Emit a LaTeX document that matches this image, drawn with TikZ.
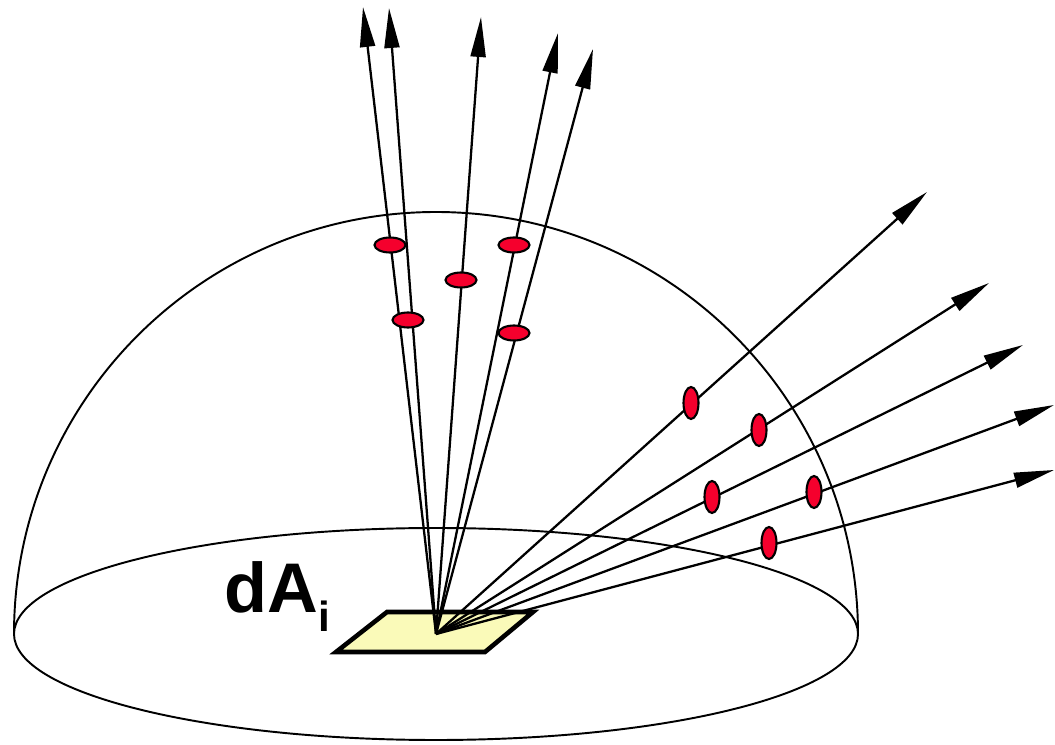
\documentclass[tikz,border=0pt]{standalone}
\usepackage{fontspec}
\setmainfont{Liberation Sans}
\usetikzlibrary{arrows.meta,shapes.geometric}

\definecolor{spotred}{RGB}{245,0,45}
\definecolor{patchyellow}{RGB}{250,250,185}

\begin{document}
\begin{tikzpicture}[x=0.02cm, y=0.02cm,
  ray/.style={line width=1.3pt, -{Triangle[length=0.8cm, width=0.3cm]}},
  spot/.style={ellipse, draw, line width=1.2pt, fill=spotred, inner sep=0pt},
  hspot/.style={spot, minimum width=0.62cm, minimum height=0.3cm},
  vspot/.style={spot, minimum width=0.3cm, minimum height=0.64cm}]

\useasboundingbox (0,0) rectangle (1055,744);

% ================= HEMISPHERE =================
\draw[line width=1.1pt] (436,110) ellipse[x radius=422, y radius=106];
\draw[line width=1.1pt] (14,110) arc[start angle=180, end angle=0, radius=422];

% Surface patch
\draw[line width=2.6pt, line join=miter, fill=patchyellow]
  (387,132) -- (533,132) -- (485,92) -- (336,92) -- cycle;

\node[anchor=base west, inner sep=0pt, font=\fontsize{40}{48}\selectfont\bfseries]
  (label) at (224,131) {dA\raisebox{-10.8pt}{\fontsize{24}{28}\selectfont i}};

% ================= RAYS =================
\coordinate (o) at (436,110);

% near the normal
\coordinate (v1) at (363,737);
\coordinate (v2) at (389,736);
\coordinate (v3) at (481,727);
\coordinate (v4) at (558,711);
\coordinate (v5) at (593,695);

% grazing
\coordinate (h1) at (927,552);
\coordinate (h2) at (989,461);
\coordinate (h3) at (1023,399);
\coordinate (h4) at (1054,339);
\coordinate (h5) at (1054,274);

\foreach \t in {v1,v2,v3,v4,v5,h1,h2,h3,h4,h5}
  \draw[ray] (o) -- (\t);

% Crossings with the hemisphere
\node[hspot] (e1) at (390,499) {};
\node[hspot] (e2) at (514,499) {};
\node[hspot] (e3) at (461,464) {};
\node[hspot] (e4) at (408,424) {};
\node[hspot] (e5) at (514,411) {};

\node[vspot] (f1) at (691,341) {};
\node[vspot] (f2) at (759,314) {};
\node[vspot] (f3) at (712,247) {};
\node[vspot] (f4) at (814,252) {};
\node[vspot] (f5) at (769,201) {};

\end{tikzpicture}
\end{document}
